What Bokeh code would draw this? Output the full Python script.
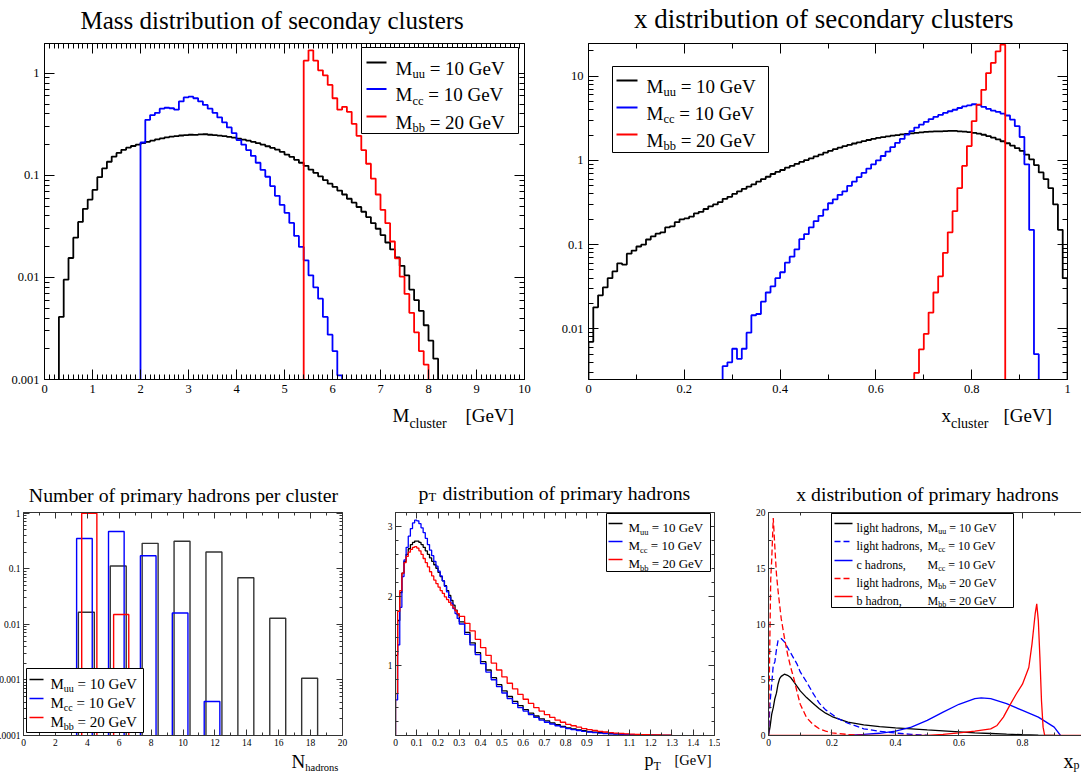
import numpy as np
from bokeh.plotting import figure
from bokeh.models import (FixedTicker, LinearAxis, Label, BoxAnnotation, Arrow,
                          PrintfTickFormatter, CustomJSTickFormatter, Range1d)
from bokeh.core.properties import value
from bokeh.layouts import row, column
from bokeh.embed import file_html
from bokeh.resources import INLINE

FONT = "Liberation Serif"

# ---------------- Panel 1: mass of secondary clusters (bins of 0.1 GeV) ----------------
mass_bin = 0.1
mass_uu_start = 0.3
mass_uu = [0.0041, 0.0095, 0.0155, 0.0245, 0.035, 0.047, 0.058, 0.072, 0.096, 0.117,
           0.136, 0.153, 0.166, 0.178, 0.187, 0.194, 0.2, 0.207, 0.213, 0.219,
           0.225, 0.23, 0.236, 0.24, 0.243, 0.246, 0.248, 0.25, 0.249, 0.252,
           0.253, 0.25, 0.248, 0.245, 0.242, 0.238, 0.234, 0.229, 0.224, 0.219,
           0.213, 0.207, 0.2, 0.193, 0.186, 0.179, 0.17, 0.16, 0.152, 0.142,
           0.133, 0.124, 0.114, 0.106, 0.098, 0.09, 0.083, 0.077, 0.071, 0.065,
           0.059, 0.054, 0.049, 0.044, 0.039, 0.034, 0.03, 0.026, 0.022, 0.0188,
           0.0157, 0.013, 0.0105, 0.0076, 0.006, 0.0047, 0.0034, 0.0024, 0.0016]
mass_cc_start = 2.0
mass_cc = [0.21, 0.35, 0.39, 0.41, 0.45, 0.46, 0.455, 0.44, 0.53, 0.58,
           0.59, 0.57, 0.53, 0.49, 0.45, 0.41, 0.37, 0.33, 0.295, 0.26,
           0.222, 0.2, 0.177, 0.155, 0.133, 0.113, 0.097, 0.0785, 0.063, 0.0514,
           0.043, 0.0342, 0.0255, 0.0199, 0.0147, 0.0105, 0.008, 0.0062, 0.0041, 0.00275,
           0.0019, 0.0011]
mass_bb_start = 5.4
mass_bb = [1.33, 1.68, 1.33, 1.07, 0.955, 0.77, 0.57, 0.44, 0.47, 0.42,
           0.32, 0.244, 0.177, 0.13, 0.093, 0.065, 0.046, 0.034, 0.0225, 0.0154,
           0.0102, 0.0069, 0.0045, 0.0029, 0.0019, 0.0014]

# ---------------- Panel 2: x of secondary clusters (bins of 0.01) ----------------
xcl_bin = 0.01
xcl_uu_start = 0.0
xcl_uu = [0.007, 0.018, 0.025, 0.031, 0.04, 0.048, 0.06, 0.058, 0.078, 0.085,
          0.095, 0.1, 0.115, 0.125, 0.135, 0.14, 0.16, 0.165, 0.185, 0.2,
          0.205, 0.215, 0.235, 0.245, 0.265, 0.285, 0.3, 0.32, 0.35, 0.37,
          0.4, 0.43, 0.46, 0.49, 0.52, 0.56, 0.6, 0.64, 0.69, 0.73,
          0.77, 0.82, 0.86, 0.91, 0.96, 1.01, 1.06, 1.12, 1.17, 1.24,
          1.3, 1.36, 1.42, 1.48, 1.53, 1.59, 1.64, 1.7, 1.75, 1.8,
          1.85, 1.89, 1.93, 1.97, 2.0, 2.04, 2.07, 2.1, 2.13, 2.15,
          2.18, 2.2, 2.21, 2.22, 2.23, 2.24, 2.24, 2.22, 2.2, 2.17,
          2.13, 2.08, 2.02, 1.95, 1.87, 1.78, 1.69, 1.6, 1.5, 1.4,
          1.3, 1.17, 1.03, 0.88, 0.72, 0.6, 0.47, 0.3, 0.15, 0.04]
xcl_cc_start = 0.28
xcl_cc = [0.0036, 0.004, 0.0058, 0.0044, 0.0058, 0.009, 0.0145, 0.015, 0.021, 0.027,
          0.032, 0.04, 0.047, 0.061, 0.072, 0.088, 0.116, 0.133, 0.16, 0.19,
          0.22, 0.26, 0.31, 0.345, 0.39, 0.43, 0.5, 0.56, 0.635, 0.71,
          0.8, 0.9, 1.0, 1.13, 1.27, 1.44, 1.62, 1.8, 2.03, 2.23,
          2.46, 2.67, 2.87, 3.1, 3.3, 3.47, 3.67, 3.84, 4.0, 4.2,
          4.4, 4.5, 4.65, 4.57, 4.33, 4.1, 3.9, 3.78, 3.6, 3.42,
          3.06, 2.55, 1.9, 0.9, 0.15, 0.005]
xcl_bb_start = 0.68
xcl_bb = [0.003, 0.0057, 0.0087, 0.0156, 0.027, 0.042, 0.08, 0.14, 0.25, 0.47,
          0.86, 1.48, 2.93, 4.6, 6.9, 10.9, 14.4, 19.8, 23.7]

# ---------------- Panel 3: number of primary hadrons per cluster ----------------
nh_uu_n = [4, 6, 8, 10, 12, 14, 16, 18]
nh_uu = [0.0165, 0.112, 0.287, 0.312, 0.2, 0.069, 0.0129, 0.00107]
nh_cc_n = [4, 6, 8, 10, 12]
nh_cc = [0.35, 0.47, 0.172, 0.016, 0.00041]
nh_bb_n = [4, 6]
nh_bb = [1.0, 0.015]

# ---------------- Panel 4: pT of primary hadrons ----------------
pt_fine_bin = 0.01      # 0 .. 0.3
pt_coarse_bin = 0.025   # 0.3 .. 1.3
pt_uu = [1.15, 1.65, 2.05, 2.33, 2.5, 2.6, 2.68, 2.74, 2.77, 2.79,
         2.79, 2.77, 2.74, 2.7, 2.65, 2.6, 2.55, 2.5, 2.45, 2.4,
         2.34, 2.28, 2.22, 2.15, 2.08, 2.01, 1.94, 1.87, 1.8, 1.73,
         1.63, 1.48, 1.33, 1.19, 1.06, 0.94, 0.83, 0.73, 0.64, 0.56,
         0.49, 0.43, 0.37, 0.32, 0.28, 0.24, 0.21, 0.18, 0.155, 0.13,
         0.11, 0.095, 0.08, 0.068, 0.057, 0.048, 0.04, 0.033, 0.027, 0.022,
         0.018, 0.015, 0.012, 0.01, 0.008, 0.006, 0.005, 0.004, 0.003, 0.002]
pt_cc = [0.51, 1.3, 1.84, 2.28, 2.52, 2.7, 2.86, 2.97, 3.05, 3.09,
         3.08, 3.04, 2.98, 2.91, 2.83, 2.74, 2.66, 2.58, 2.5, 2.43,
         2.36, 2.29, 2.22, 2.14, 2.06, 1.98, 1.9, 1.82, 1.75, 1.68,
         1.6, 1.45, 1.3, 1.16, 1.03, 0.91, 0.8, 0.7, 0.61, 0.53,
         0.46, 0.4, 0.35, 0.3, 0.26, 0.22, 0.19, 0.165, 0.14, 0.12,
         0.1, 0.085, 0.072, 0.06, 0.05, 0.042, 0.035, 0.029, 0.024, 0.02,
         0.016, 0.013, 0.011, 0.009, 0.007, 0.005, 0.004, 0.003, 0.002, 0.002]
pt_bb = [0.6, 1.78, 2.08, 2.33, 2.48, 2.57, 2.63, 2.67, 2.7, 2.71,
         2.69, 2.65, 2.6, 2.54, 2.48, 2.42, 2.35, 2.29, 2.23, 2.18,
         2.13, 2.08, 2.04, 1.99, 1.95, 1.91, 1.87, 1.83, 1.79, 1.75,
         1.71, 1.61, 1.5, 1.38, 1.26, 1.15, 1.04, 0.94, 0.84, 0.75,
         0.67, 0.59, 0.52, 0.46, 0.4, 0.35, 0.3, 0.26, 0.22, 0.19,
         0.16, 0.14, 0.12, 0.1, 0.085, 0.072, 0.06, 0.05, 0.042, 0.035,
         0.029, 0.024, 0.02, 0.016, 0.013, 0.011, 0.009, 0.007, 0.005, 0.004]

# ---------------- Panel 5: x of primary hadrons ----------------
xp_light_uu_x = [0, 0.005, 0.01, 0.015, 0.02, 0.025, 0.03, 0.035, 0.04, 0.05, 0.06, 0.07,
                 0.08, 0.09, 0.1, 0.12, 0.14, 0.16, 0.18, 0.2, 0.22, 0.25, 0.3, 0.35, 0.4,
                 0.45, 0.5, 0.55, 0.6, 0.65, 0.7, 0.75, 0.8, 0.85, 0.9]
xp_light_uu = [0, 0.8, 1.9, 2.5, 3.3, 3.8, 4.6, 5.1, 5.3, 5.5, 5.4, 5.2,
               4.8, 4.4, 4.0, 3.4, 2.9, 2.4, 2.0, 1.7, 1.5, 1.2, 0.95, 0.8, 0.68,
               0.6, 0.5, 0.42, 0.33, 0.24, 0.18, 0.12, 0.07, 0.03, 0.0]
xp_light_cc_x = [0, 0.005, 0.01, 0.015, 0.02, 0.025, 0.03, 0.04, 0.05, 0.06, 0.07, 0.08,
                 0.09, 0.1, 0.12, 0.14, 0.16, 0.18, 0.2, 0.22, 0.25, 0.3, 0.35, 0.4, 0.45, 0.5]
xp_light_cc = [0, 3.0, 4.6, 6.3, 6.6, 7.7, 8.5, 8.7, 8.4, 7.9, 7.4, 6.9,
               6.4, 5.7, 4.8, 3.8, 2.9, 2.3, 1.9, 1.5, 1.1, 0.6, 0.38, 0.22, 0.1, 0.03]
xp_c_x = [0.25, 0.3, 0.35, 0.4, 0.45, 0.5, 0.55, 0.6, 0.65, 0.67, 0.7, 0.75, 0.8, 0.85,
          0.9, 0.92]
xp_c = [0.02, 0.1, 0.2, 0.4, 0.75, 1.35, 2.1, 2.8, 3.3, 3.37, 3.3, 2.85, 2.25, 1.65,
        0.75, 0.0]
xp_light_bb_x = [0, 0.004, 0.007, 0.01, 0.015, 0.02, 0.025, 0.03, 0.04, 0.05, 0.06, 0.07,
                 0.08, 0.09, 0.1, 0.12, 0.14, 0.16, 0.18, 0.2, 0.25, 0.3]
xp_light_bb = [0, 8.0, 14.0, 15.7, 19.5, 16.9, 14.5, 13.0, 10.5, 8.8, 7.3, 6.1,
               5.1, 3.9, 2.8, 1.6, 1.0, 0.6, 0.4, 0.24, 0.09, 0.0]
xp_b_x = [0, 0.5, 0.55, 0.6, 0.65, 0.7, 0.72, 0.74, 0.76, 0.78, 0.8, 0.82, 0.83, 0.84,
          0.845, 0.85, 0.855, 0.86, 0.865, 0.87, 0.985]
xp_b = [0, 0.02, 0.1, 0.24, 0.4, 0.6, 0.9, 1.65, 2.7, 3.7, 4.6, 6.1, 8.2, 10.9,
        11.8, 10.3, 7.0, 3.1, 0.75, 0, 0]

# ---------------- helpers ----------------
TW = {'M': 889, 'x': 500, 'p': 500, 'N': 722, 'u': 500, 'c': 444, 'b': 500, 'l': 278,
      's': 389, 't': 278, 'e': 444, 'r': 333, 'h': 500, 'a': 444, 'd': 500, 'o': 500,
      'n': 500, 'T': 611, ' ': 250, '=': 564, 'G': 722, 'V': 722, '[': 333, ']': 333,
      ',': 250, 'g': 500, 'i': 278, 'f': 333, 'y': 500, 'm': 778}


def tw(s, size):
    return sum(TW.get(ch, 500) for ch in s) * size / 1000.0


# --- text inside a plot frame (legends): Label in frame-relative screen units
def put(p, fr, X, Y, text, size, align="left"):
    fl, ft, fw, fh = fr
    lead = len(text) - len(text.lstrip(" "))
    X = X + lead * tw(" ", size)
    p.add_layout(Label(x=X - fl, y=ft + fh - Y, x_units="screen", y_units="screen",
                       text=text.strip(" "), text_font=FONT, text_font_size=f"{size}px",
                       text_align=align, text_baseline="alphabetic", text_color="black"))


# --- text in a text-strip figure whose ranges are page pixel coordinates
BASE_FIX = 0.3   # measured offset of the rendered baseline, in em


def sput(s, _fr, X, Y, text, size, align="left"):
    lead = len(text) - len(text.lstrip(" "))
    X = X + lead * tw(" ", size)
    s.text(x=[X], y=[Y - BASE_FIX * size], text=[text.strip(" ")], text_font=value(FONT),
           text_font_size=value(f"{size}px"), text_align=value(align),
           text_baseline=value("alphabetic"), text_color="black")


def put_parts(p, fr, X, Y, parts, size, subsize, drop, writer=put):
    x = X
    for text, is_sub in parts:
        if is_sub:
            writer(p, fr, x, Y + drop, text, subsize)
            x += tw(text, subsize)
        else:
            writer(p, fr, x, Y, text, size)
            x += tw(text, size)


def strip(width, height, fr, py0):
    # in a column the strip's frame is aligned with the plot frame below/above it,
    # so the x range spans the plot frame's page coordinates
    fl, ft, fw, fh = fr
    s = figure(width=width, height=height, x_range=Range1d(fl, fl + fw),
               y_range=Range1d(py0 + height, py0),
               x_axis_type=None, y_axis_type=None, output_backend="svg", toolbar_location=None,
               min_border_left=0, min_border_right=0, min_border_top=0, min_border_bottom=0,
               background_fill_color="white", border_fill_color="white")
    s.grid.visible = False
    s.outline_line_color = None
    return s


def seg(p, fr, X0, X1, Y, color, width, dash="solid"):
    fl, ft, fw, fh = fr
    p.add_layout(Arrow(end=None, x_start=X0 - fl, x_end=X1 - fl,
                       y_start=ft + fh - Y, y_end=ft + fh - Y,
                       start_units="screen", end_units="screen",
                       line_color=color, line_width=width, line_dash=dash))


def box(p, fr, X0, Y0, X1, Y1):
    fl, ft, fw, fh = fr
    p.add_layout(BoxAnnotation(left=X0 - fl, right=X1 - fl, top=ft + fh - Y0, bottom=ft + fh - Y1,
                               left_units="screen", right_units="screen",
                               top_units="screen", bottom_units="screen",
                               fill_color="white", fill_alpha=1.0,
                               line_color="black", line_alpha=1.0, line_width=1))


def outline(edges, vals, floor):
    xs, ys = [edges[0]], [floor]
    for i, v in enumerate(vals):
        xs += [edges[i], edges[i + 1]]
        ys += [v, v]
    xs.append(edges[-1])
    ys.append(floor)
    return xs, ys


def edges_from(start, width, n):
    return [round(start + width * i, 4) for i in range(n + 1)]


def make_fig(width, height, border, xr, yr, ylog):
    l, r, t, b = border
    p = figure(width=width, height=height, x_range=Range1d(*xr), y_range=Range1d(*yr),
               y_axis_type="log" if ylog else "linear", output_backend="svg",
               toolbar_location=None, min_border_left=l, min_border_right=r,
               min_border_top=t, min_border_bottom=b,
               background_fill_color="white", border_fill_color="white")
    p.grid.visible = False
    p.outline_line_color = None
    return p


BLANK = CustomJSTickFormatter(code="return ''")
FMT = PrintfTickFormatter(format="%g")


def style(ax, tin, tmin, lpx, standoff, color="black"):
    ax.major_tick_in = tin
    ax.major_tick_out = 0
    ax.minor_tick_in = tmin
    ax.minor_tick_out = 0
    ax.axis_line_color = color
    ax.major_tick_line_color = color
    ax.minor_tick_line_color = color
    ax.axis_line_width = 1
    ax.major_label_text_font = FONT
    ax.major_label_text_font_size = f"{lpx}px"
    ax.major_label_text_color = "black"
    ax.major_label_standoff = standoff


def axes(p, xt, xm, yt, ym, tin, tmin, lpx, standoff, right=True, color="black"):
    p.xaxis[0].ticker = FixedTicker(ticks=xt, minor_ticks=xm)
    p.xaxis[0].formatter = FMT
    p.yaxis[0].ticker = FixedTicker(ticks=yt, minor_ticks=ym)
    p.yaxis[0].formatter = FMT
    style(p.xaxis[0], tin, tmin, lpx, standoff, color)
    style(p.yaxis[0], tin, tmin, lpx, standoff, color)
    top = LinearAxis(ticker=FixedTicker(ticks=xt, minor_ticks=xm), formatter=BLANK)
    style(top, tin, tmin, 1, 0, color)
    p.add_layout(top, "above")
    if right:
        rt = LinearAxis(ticker=FixedTicker(ticks=yt, minor_ticks=ym), formatter=BLANK)
        style(rt, tin, tmin, 1, 0, color)
        p.add_layout(rt, "right")


def lin_ticks(a, b, step):
    n = int(round((b - a) / step))
    return [round(a + step * i, 4) for i in range(n + 1)]


def log_minor(k0, k1):
    return [round(m * 10.0 ** k, 8) for k in range(k0, k1 + 1) for m in range(2, 10)]


BLACK, BLUE, RED = "#000000", "#0000ff", "#ff0000"

# =============== top row: strips 0..36 | plot 36..402 | strip 402..440 ===============
# ---------------- Figure 1 ----------------
FR1 = (44, 43, 480, 336)
t1, l1 = strip(540, 36, FR1, 0), strip(540, 38, FR1, 402)
p1 = make_fig(540, 366, (44, 16, 7, 23), (0, 10), (0.001, 1.96), True)
axes(p1, lin_ticks(0, 10, 1), lin_ticks(0, 10, 0.1), [0.001, 0.01, 0.1, 1], log_minor(-3, 0),
     10, 5, 12.5, 5)
for start, vals, col in ((mass_uu_start, mass_uu, BLACK), (mass_cc_start, mass_cc, BLUE),
                         (mass_bb_start, mass_bb, RED)):
    xs, ys = outline(edges_from(start, mass_bin, len(vals)), vals, 1e-6)
    p1.line(xs, ys, line_color=col, line_width=1.8)
sput(t1, None, 80, 27, "Mass distribution of seconday clusters", 25)
put_parts(l1, None, 392, 421, [("M", False), ("cluster", True)], 19, 14, 6, sput)
sput(l1, None, 465, 421, "[GeV]", 19)
box(p1, FR1, 361, 47, 518, 133)
for ly, sub, rest, col in ((62, "uu", " = 10 GeV", BLACK), (88.5, "cc", " = 10 GeV", BLUE),
                           (116, "bb", " = 20 GeV", RED)):
    seg(p1, FR1, 366, 386, ly, col, 1.8)
    put_parts(p1, FR1, 395, ly + 5.5, [("M", False), (sub, True), (rest, False)], 19, 12.5, 6)

# ---------------- Figure 2 ----------------
FR2 = (588, 43, 479, 336)
t2, l2 = strip(541, 36, FR2, 0), strip(541, 38, FR2, 402)
p2 = make_fig(541, 366, (48, 14, 7, 23), (0, 1), (0.0025, 24.5), True)
axes(p2, lin_ticks(0, 1, 0.2), lin_ticks(0, 1, 0.1), [0.01, 0.1, 1, 10], log_minor(-3, 1),
     10, 5, 12.5, 5)
for start, vals, col in ((xcl_uu_start, xcl_uu, BLACK), (xcl_cc_start, xcl_cc, BLUE),
                         (xcl_bb_start, xcl_bb, RED)):
    xs, ys = outline(edges_from(start, xcl_bin, len(vals)), vals, 1e-6)
    p2.line(xs, ys, line_color=col, line_width=1.8)
sput(t2, None, 1013, 27, "x distribution of secondary clusters", 27, align="right")
put_parts(l2, None, 941, 421, [("x", False), ("cluster", True)], 19, 14, 6, sput)
sput(l2, None, 1003, 421, "[GeV]", 19)
box(p2, FR2, 612, 66, 768, 152)
for ly, sub, rest, col in ((80, "uu", " = 10 GeV", BLACK), (107, "cc", " = 10 GeV", BLUE),
                           (134, "bb", " = 20 GeV", RED)):
    seg(p2, FR2, 616, 637, ly, col, 1.8)
    put_parts(p2, FR2, 646, ly + 5.5, [("M", False), (sub, True), (rest, False)], 19, 12.5, 6)

# =============== bottom row: strips 440..505 | plot 505..750 | strip 750..772 ===============
# ---------------- Figure 3 (shifted 15px left so the long tick labels run off the page) ----
FR3 = (23, 512, 319, 223)
t3, l3 = strip(375, 65, FR3, 440), strip(375, 22, FR3, 750)
p3 = make_fig(375, 245, (38, 18, 7, 15), (0, 20), (0.0001, 1.03), True)
axes(p3, lin_ticks(0, 20, 2), lin_ticks(0, 20, 1), [0.0001, 0.001, 0.01, 0.1, 1],
     log_minor(-4, -1), 6, 3, 9.5, 3, color="#333333")
for ns, vals, col, shift, wid in ((nh_uu_n, nh_uu, "#333333", -0.06, 1.0),
                                  (nh_cc_n, nh_cc, BLUE, -0.18, 0.98),
                                  (nh_bb_n, nh_bb, RED, 0.125, 0.95)):
    left = [n + shift - wid / 2 for n in ns]
    right = [n + shift + wid / 2 for n in ns]
    p3.quad(left=left, right=right, top=vals, bottom=[1e-6] * len(vals),
            fill_color=None, line_color=col, line_width=1.4)
sput(t3, None, 183, 500, "Number of primary hadrons per cluster", 19.8, align="center")
put_parts(l3, None, 291, 767, [("N", False), ("hadrons", True)], 19, 10.5, 3.5, sput)
box(p3, FR3, 26, 668, 143, 732)
for ly, sub, rest, col in ((679, "uu", " = 10 GeV", BLACK), (698, "cc", " = 10 GeV", BLUE),
                           (717, "bb", " = 20 GeV", RED)):
    seg(p3, FR3, 29, 43, ly, col, 1.4)
    put_parts(p3, FR3, 50, ly + 4.5, [("M", False), (sub, True), (rest, False)], 15, 10, 4.5)
col3 = column(t3, p3, l3)
col3.margin = (0, 0, 0, -15)

# ---------------- Figure 4 ----------------
FR4 = (395, 512, 319, 223)
t4, l4 = strip(360, 65, FR4, 440), strip(360, 22, FR4, 750)
p4 = make_fig(360, 245, (35, 6, 7, 15), (0, 1.5), (0, 3.2), False)
axes(p4, lin_ticks(0, 1.5, 0.1), lin_ticks(0, 1.5, 0.05), [1, 2, 3], lin_ticks(0, 3.2, 0.2),
     6, 3, 9.5, 3, color="#333333")
pt_edges = lin_ticks(0, 0.3, pt_fine_bin)[:-1] + lin_ticks(0.3, 1.3, pt_coarse_bin)
for vals, col in ((pt_uu, BLACK), (pt_cc, BLUE), (pt_bb, RED)):
    xs, ys = outline(pt_edges, vals, 0)
    p4.line(xs, ys, line_color=col, line_width=1.3)
put_parts(t4, None, 418, 498, [("p", False), ("T", True)], 19.8, 12.5, 2.5, sput)
sput(t4, None, 442, 498, "distribution of primary hadrons", 19.8)
put_parts(l4, None, 644, 765, [("p", False), ("T", True)], 18, 12, 4, sput)
sput(l4, None, 674, 764, "[GeV]", 14.5)
box(p4, FR4, 606, 513, 710, 571)
for ly, sub, rest, col in ((523, "uu", " = 10 GeV", BLACK), (541, "cc", " = 10 GeV", BLUE),
                           (559, "bb", " = 20 GeV", RED)):
    seg(p4, FR4, 608, 622, ly, col, 1.3)
    put_parts(p4, FR4, 628, ly + 4, [("M", False), (sub, True), (rest, False)], 13, 8.5, 4)

# ---------------- Figure 5 ----------------
FR5 = (768, 512, 313, 223)
t5, l5 = strip(361, 65, FR5, 440), strip(361, 22, FR5, 750)
p5 = make_fig(361, 245, (48, 0, 7, 15), (0, 0.986), (0, 20), False)
axes(p5, lin_ticks(0, 0.8, 0.2), lin_ticks(0, 0.9, 0.1), lin_ticks(0, 20, 5),
     lin_ticks(0, 20, 2.5), 6, 3, 9.5, 3, right=False, color="#333333")
series5 = ((xp_light_uu_x, xp_light_uu, BLACK, "solid"),
           (xp_light_cc_x, xp_light_cc, BLUE, "6 3"),
           (xp_c_x, xp_c, BLUE, "solid"),
           (xp_light_bb_x, xp_light_bb, RED, "6 3"),
           (xp_b_x, xp_b, RED, "solid"))
for xs, ys, col, dash in series5:
    p5.line(xs, ys, line_color=col, line_width=1.3, line_dash=dash)
sput(t5, None, 927, 499, "x distribution of primary hadrons", 19.8, align="center")
put_parts(l5, None, 1063, 766, [("x", False), ("p", True)], 20, 12, 2.5, sput)
box(p5, FR5, 831, 513, 1013, 607)
rows5 = ((523, "light hadrons,", "uu", " = 10 GeV", BLACK, "solid"),
         (541, "light hadrons,", "cc", " = 10 GeV", BLUE, "6 3"),
         (560, "c hadrons,", "cc", " = 10 GeV", BLUE, "solid"),
         (578, "light hadrons,", "bb", " = 20 GeV", RED, "6 3"),
         (596, "b hadron,", "bb", " = 20 GeV", RED, "solid"))
for ly, pre, sub, rest, col, dash in rows5:
    seg(p5, FR5, 834, 852, ly, col, 1.3, dash)
    put(p5, FR5, 856, ly + 4, pre, 12)
    put_parts(p5, FR5, 927, ly + 4, [("M", False), (sub, True), (rest, False)], 12, 8, 3.5)

layout = column(row(column(t1, p1, l1), column(t2, p2, l2)),
                row(col3, column(t4, p4, l4), column(t5, p5, l5)))
open("out.html", "w").write(file_html(layout, INLINE))
